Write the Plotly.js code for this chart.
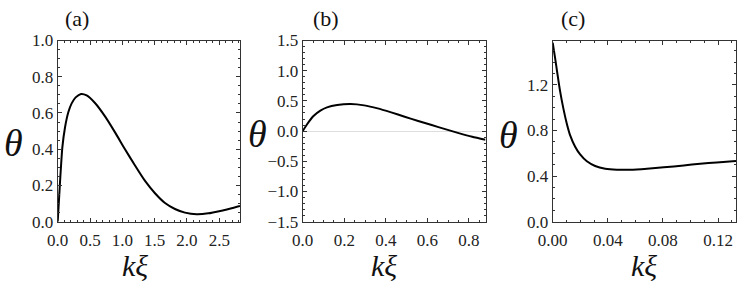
<!DOCTYPE html>
<html>
<head>
<meta charset="utf-8">
<script src="https://cdn.plot.ly/plotly-3.0.1.min.js"></script>
<style>
html,body{margin:0;padding:0;background:#fff;}
#chart{width:747px;height:293px;}
</style>
</head>
<body>
<div id="chart"></div>
<script>
// Panel (a)
const xA = [0, 0.036, 0.072, 0.113, 0.165, 0.216, 0.278, 0.361, 0.448, 0.577, 0.732, 0.887, 1.041, 1.196, 1.351, 1.505, 1.660, 1.814, 1.969, 2.149, 2.33, 2.536, 2.69, 2.82];
const yA = [0, 0.22, 0.41, 0.52, 0.605, 0.653, 0.686, 0.705, 0.697, 0.655, 0.581, 0.493, 0.400, 0.310, 0.225, 0.157, 0.103, 0.070, 0.050, 0.041, 0.046, 0.061, 0.074, 0.087];
// Panel (b)
const xB = [0, 0.0195, 0.052, 0.085, 0.117, 0.166, 0.231, 0.296, 0.361, 0.426, 0.491, 0.556, 0.621, 0.686, 0.751, 0.816, 0.88];
const yB = [0, 0.105, 0.249, 0.338, 0.393, 0.432, 0.448, 0.426, 0.376, 0.310, 0.238, 0.166, 0.100, 0.033, -0.033, -0.094, -0.144];
// Panel (c)
const xC = [0, 0.0017, 0.0034, 0.0053, 0.0078, 0.0102, 0.0126, 0.0163, 0.0199, 0.0248, 0.0308, 0.0381, 0.0466, 0.0563, 0.0684, 0.0806, 0.0951, 0.107, 0.119, 0.133];
const yC = [1.57, 1.44, 1.30, 1.15, 0.99, 0.862, 0.760, 0.658, 0.590, 0.530, 0.489, 0.465, 0.456, 0.456, 0.465, 0.477, 0.494, 0.508, 0.520, 0.532];

const panelLabels = ['(a)', '(b)', '(c)'];
const yTitle = 'θ';
const xTitle = 'kξ';

const W = 747, H = 293;
const font = '"Liberation Serif", "Times New Roman", Times, serif';
const frameColor = '#333';

function px(x){ return x / W; }
function py(y){ return 1 - y / H; }

const yDom = [py(221.7), py(40.5)];

function xaxis(domain, range, dtick, minorDtick, fmt){
  return {
    domain: domain, range: range, dtick: dtick, tick0: 0,
    showgrid: false, zeroline: false,
    showline: true, linecolor: frameColor, linewidth: 1, mirror: 'allticks',
    ticks: 'inside', ticklen: 4, tickcolor: frameColor, tickwidth: 1,
    minor: {ticks: 'inside', ticklen: 2, dtick: minorDtick, tickcolor: frameColor, tickwidth: 1, showgrid: false},
    tickformat: fmt,
    ticklabelstandoff: 3,
    tickfont: {family: font, size: 17, color: '#222'},
    fixedrange: true
  };
}
function yaxis(anchor, range, dtick, minorDtick, fmt, zero){
  return {
    domain: yDom, range: range, dtick: dtick, tick0: 0, anchor: anchor,
    showgrid: false, zeroline: zero, zerolinecolor: '#dddddd', zerolinewidth: 1,
    showline: true, linecolor: frameColor, linewidth: 1, mirror: 'allticks',
    ticks: 'inside', ticklen: 4, tickcolor: frameColor, tickwidth: 1,
    minor: {ticks: 'inside', ticklen: 2, dtick: minorDtick, tickcolor: frameColor, tickwidth: 1, showgrid: false},
    tickformat: fmt,
    tickfont: {family: font, size: 17, color: '#222'},
    fixedrange: true
  };
}

const lineStyle = {color: '#000', width: 2, shape: 'spline', smoothing: 0.6};

const data = [
  {x: xA, y: yA, type: 'scatter', mode: 'lines', line: lineStyle, xaxis: 'x', yaxis: 'y', hoverinfo: 'skip'},
  {x: xB, y: yB, type: 'scatter', mode: 'lines', line: lineStyle, xaxis: 'x2', yaxis: 'y2', hoverinfo: 'skip'},
  {x: xC, y: yC, type: 'scatter', mode: 'lines', line: lineStyle, xaxis: 'x3', yaxis: 'y3', hoverinfo: 'skip'}
];

function ann(text, x, y, size){
  return {text: text, x: px(x), y: py(y), xref: 'paper', yref: 'paper',
    xanchor: 'center', yanchor: 'middle', showarrow: false,
    font: {family: font, size: size, color: '#111'}};
}

const annotations = [
  ann(panelLabels[0], 77, 18, 22),
  ann(panelLabels[1], 326, 18, 22),
  ann(panelLabels[2], 573, 18, 22),
  ann('<i>' + yTitle + '</i>', 13, 143, 38),
  ann('<i>' + yTitle + '</i>', 257, 134, 38),
  ann('<i>' + yTitle + '</i>', 508, 135, 38),
  ann('<i>' + xTitle + '</i>', 135, 265, 30),
  ann('<i>' + xTitle + '</i>', 384, 265, 30),
  ann('<i>' + xTitle + '</i>', 644, 265, 30)
];

const layout = {
  width: W, height: H,
  margin: {l: 0, r: 0, t: 0, b: 0},
  paper_bgcolor: '#fff', plot_bgcolor: '#fff',
  showlegend: false,
  font: {family: font},
  xaxis: xaxis([px(57.7), px(240)], [0, 2.82], 0.5, 0.1, '.1f'),
  yaxis: yaxis('x', [0, 1.0], 0.2, 0.05, '.1f', false),
  xaxis2: xaxis([px(302.7), px(485.5)], [0, 0.88], 0.2, 0.05, '.1f'),
  yaxis2: yaxis('x2', [-1.5, 1.5], 0.5, 0.1, '.1f', true),
  xaxis3: xaxis([px(552.7), px(736)], [0, 0.133], 0.04, 0.01, '.2f'),
  yaxis3: yaxis('x3', [0, 1.59], 0.4, 0.1, '.1f', false),
  annotations: annotations
};
layout.xaxis.anchor = 'y';
layout.xaxis2.anchor = 'y2';
layout.xaxis3.anchor = 'y3';

Plotly.newPlot('chart', data, layout, {displayModeBar: false, staticPlot: true});
</script>
</body>
</html>
